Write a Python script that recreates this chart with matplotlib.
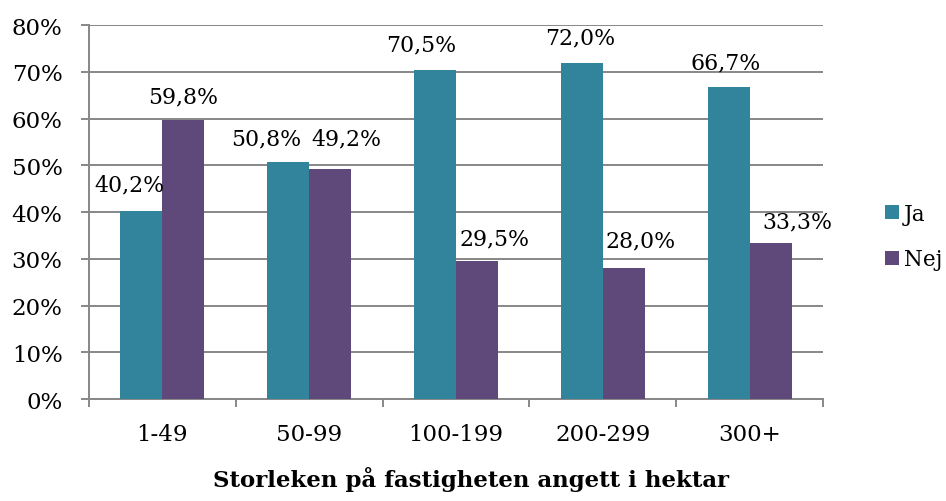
import numpy as np
import matplotlib
matplotlib.use('Agg')
import matplotlib.pyplot as plt

# data
kategorier = ['1-49', '50-99', '100-199', '200-299', '300+']
ja = [40.2, 50.8, 70.5, 72.0, 66.7]
nej = [59.8, 49.2, 29.5, 28.0, 33.3]
ja_etiketter = ['40,2%', '50,8%', '70,5%', '72,0%', '66,7%']
nej_etiketter = ['59,8%', '49,2%', '29,5%', '28,0%', '33,3%']

# label offsets in pixels (from bar top centre), as placed in the original
ja_dx = [-12, -22, -14, -2, -3]
ja_dy = [27, 23, 25, 25, 25]
nej_dx = [0, 16, 18, 17, 27]
nej_dy = [23, 31, 23, 28, 22]

plt.rcParams['font.family'] = 'DejaVu Serif'
teal = '#31849B'
lila = '#5F497A'
grid = '#878787'
fs = 16.5

fig = plt.figure(figsize=(9.46, 5.02), dpi=100)
ax = fig.add_axes([0.094, 0.203, 0.776, 0.745])

x = np.arange(len(kategorier))
w = 0.286
ax.bar(x - w / 2, ja, w, color=teal, label='Ja', zorder=3)
ax.bar(x + w / 2, nej, w, color=lila, label='Nej', zorder=3)

px = 0.72  # points per pixel at 100 dpi
for i in range(len(x)):
    ax.annotate(ja_etiketter[i], (x[i] - w / 2, ja[i]),
                xytext=(ja_dx[i] * px, ja_dy[i] * px), textcoords='offset points',
                ha='center', va='center', fontsize=15.8, color='black')
    ax.annotate(nej_etiketter[i], (x[i] + w / 2, nej[i]),
                xytext=(nej_dx[i] * px, nej_dy[i] * px), textcoords='offset points',
                ha='center', va='center', fontsize=15.8, color='black')

ax.set_xlim(-0.5, len(x) - 0.5)
ax.set_ylim(0, 80)
ax.set_yticks(range(0, 81, 10))
ax.set_yticklabels([f'{v}%' for v in range(0, 81, 10)], fontsize=fs)
ax.yaxis.grid(True, color=grid, linewidth=1.4, zorder=0)
ax.set_axisbelow(True)

ax.set_xticks(np.arange(-0.5, len(x), 1.0))
ax.set_xticklabels([])
ax.set_xticks(x, minor=True)
ax.set_xticklabels(kategorier, minor=True, fontsize=fs)
ax.tick_params(axis='x', which='major', length=6, width=1.4, color=grid)
ax.tick_params(axis='x', which='minor', length=0, pad=17)
ax.tick_params(axis='y', length=6, width=1.4, color=grid, pad=13)

for s in ['top', 'right']:
    ax.spines[s].set_visible(False)
for s in ['left', 'bottom']:
    ax.spines[s].set_color(grid)
    ax.spines[s].set_linewidth(1.4)

ax.set_xlabel('Storleken på fastigheten angett i hektar', fontsize=16.5,
              fontweight='bold')
ax.xaxis.set_label_coords(0.52, -0.18)

ax.legend(loc='center left', bbox_to_anchor=(0.936, 0.527),
          bbox_transform=fig.transFigure, frameon=False, borderpad=0, borderaxespad=0,
          fontsize=15.5, handlelength=0.62, handleheight=0.62, handletextpad=0.25,
          labelspacing=1.1)

fig.savefig('out.png', dpi=100)
